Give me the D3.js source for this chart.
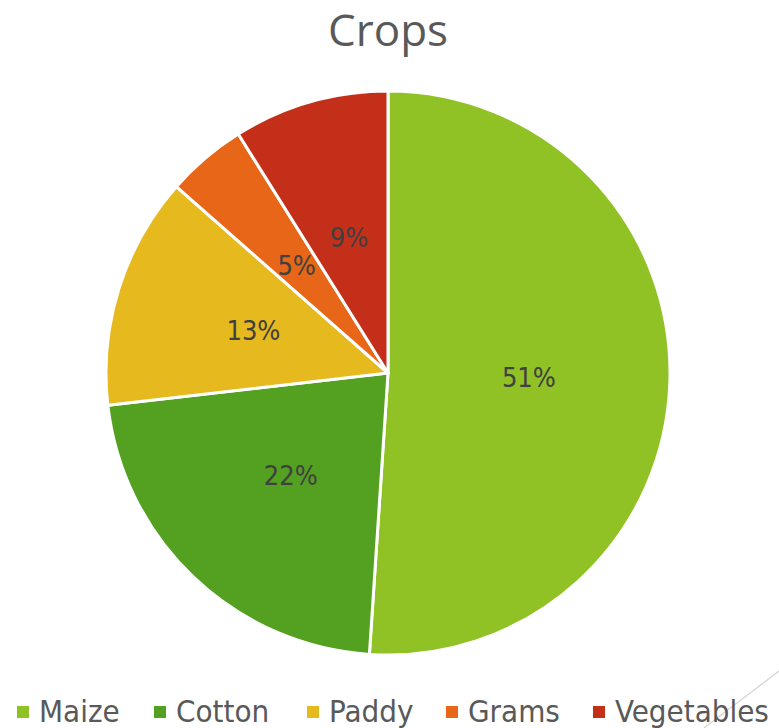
<!DOCTYPE html>
<html>
<head>
<meta charset="utf-8">
<script src="https://cdn.jsdelivr.net/npm/d3@7"></script>
<style>
  body { margin: 0; background: #fff; }
  svg { display: block; }
</style>
</head>
<body>
<svg id="chart"></svg>
<script>
var width = 779, height = 728;

// Data (shares measured from slice angles; labels show rounded %)
var crops = ["Maize", "Cotton", "Paddy", "Grams", "Vegetables"];
var shares = [51.0, 22.1, 13.3, 4.6, 8.9];
var colors = ["#90c226", "#54a021", "#e6b91e", "#e76618", "#c42f1a"];

var narrow = "'Liberation Sans Narrow', 'DejaVu Sans Condensed', 'Roboto Condensed', sans-serif";

var svg = d3.select("#chart")
    .attr("width", width)
    .attr("height", height);

// faint decorative line in the corner
svg.append("line")
    .attr("x1", 779).attr("y1", 671)
    .attr("x2", 704).attr("y2", 728)
    .attr("stroke", "#d3d3d3")
    .attr("stroke-width", 1.2);

// Title
svg.append("text")
    .attr("x", 388)
    .attr("y", 46)
    .attr("text-anchor", "middle")
    .attr("font-family", "'Open Sans', sans-serif")
    .attr("font-size", 44)
    .attr("fill", "#595959")
    .text("Crops");

var cx = 388, cy = 373, radius = 282;

var total = d3.sum(shares);
var data = crops.map(function (c, i) { return { name: c, value: shares[i], color: colors[i] }; });

var pie = d3.pie()
    .value(function (d) { return d.value; })
    .sort(null);

var arc = d3.arc().innerRadius(0).outerRadius(radius);
var labelArc = d3.arc().innerRadius(radius * 0.5).outerRadius(radius * 0.5);

var g = svg.append("g").attr("transform", "translate(" + cx + "," + cy + ")");

var arcs = pie(data);

g.selectAll("path")
    .data(arcs)
    .enter()
    .append("path")
    .attr("d", arc)
    .attr("fill", function (d) { return d.data.color; })
    .attr("stroke", "#fff")
    .attr("stroke-width", 3)
    .attr("stroke-linejoin", "round");

g.selectAll("text.lbl")
    .data(arcs)
    .enter()
    .append("text")
    .attr("class", "lbl")
    .attr("transform", function (d) { return "translate(" + labelArc.centroid(d) + ")"; })
    .attr("text-anchor", "middle")
    .attr("dy", "0.35em")
    .attr("font-family", narrow)
    .attr("font-size", 27)
    .attr("fill", "#404040")
    .text(function (d) { return Math.round(d.data.value / total * 100) + "%"; });

// Legend
var legendX = [17, 154, 307, 446, 593];
var legend = svg.append("g");
var items = legend.selectAll("g")
    .data(data)
    .enter()
    .append("g")
    .attr("transform", function (d, i) { return "translate(" + legendX[i] + ",0)"; });

items.append("rect")
    .attr("x", 0)
    .attr("y", 706)
    .attr("width", 12)
    .attr("height", 12)
    .attr("fill", function (d) { return d.color; });

items.append("text")
    .attr("x", 22)
    .attr("y", 722)
    .attr("font-family", narrow)
    .attr("font-size", 31)
    .attr("fill", "#595959")
    .text(function (d) { return d.name; });
</script>
</body>
</html>
